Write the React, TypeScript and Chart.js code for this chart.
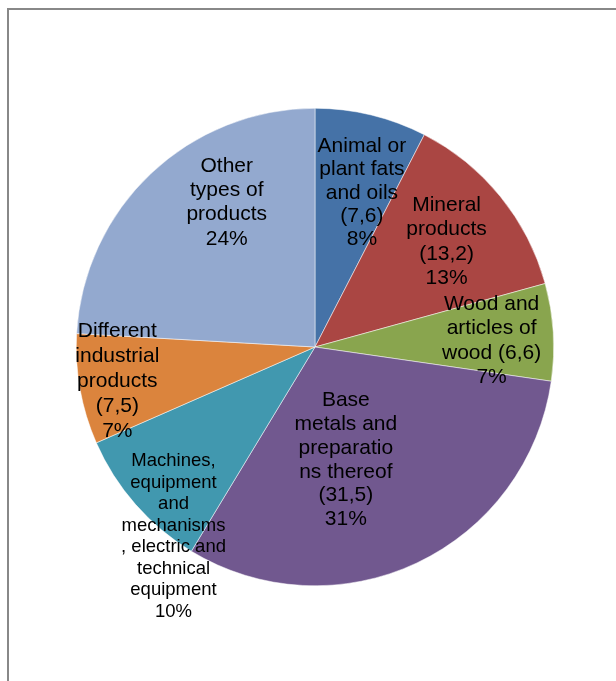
import React, { useEffect, useRef } from "react";
import { Chart, registerables } from "chart.js";

Chart.register(...registerables);

const categories = [
  "Animal or plant fats and oils",
  "Mineral products",
  "Wood and articles of wood",
  "Base metals and preparations thereof",
  "Machines, equipment and mechanisms, electric and technical equipment",
  "Different industrial products",
  "Other types of products",
];
const values = [7.6, 13.2, 6.6, 31.5, 9.8, 7.5, 24.2];
const colors = ["#4572A7", "#AA4643", "#89A54E", "#71588F", "#4198AF", "#DB843D", "#93A9CF"];
// label lines; {v} is replaced by the value, the percentage line is appended
const labelLines = [
  ["Animal or", "plant fats", "and oils", "({v})"],
  ["Mineral", "products", "({v})"],
  ["Wood and", "articles of", "wood ({v})"],
  ["Base", "metals and", "preparatio", "ns thereof", "({v})"],
  ["Machines,", "equipment", "and", "mechanisms", ", electric and", "technical", "equipment"],
  ["Different", "industrial", "products", "({v})"],
  ["Other", "types of", "products"],
];
// label placement style: radial fraction and angular nudge (degrees)
const labelRadius = [0.675, 0.706, 0.74, 0.49, 0.99, 0.84, 0.71];
const labelNudge = [3.3, 0.4, 1.6, 10, -12, 0.5, 12];
const labelFont = [21, 21, 21, 21, 18.5, 21, 21];
const labelLineH = [23.3, 24.5, 24.5, 23.8, 21.5, 25, 24.3];

const labelPlugin = {
  id: "sliceLabels",
  afterDatasetsDraw(chart: any) {
    const ctx = chart.ctx;
    const meta = chart.getDatasetMeta(0);
    const total = values.reduce((a, b) => a + b, 0);
    ctx.save();
    ctx.fillStyle = "#000";
    ctx.textAlign = "center";
    ctx.textBaseline = "middle";
    meta.data.forEach((arc: any, i: number) => {
      const { x, y, startAngle, endAngle, outerRadius } = arc.getProps(
        ["x", "y", "startAngle", "endAngle", "outerRadius"],
        true
      );
      const mid = (startAngle + endAngle) / 2 + (labelNudge[i] * Math.PI) / 180;
      const r = outerRadius * labelRadius[i];
      const cx = x + Math.cos(mid) * r;
      const cy = y + Math.sin(mid) * r;
      const vtxt = values[i].toFixed(1).replace(".", ",");
      const lines = labelLines[i].map((l) => l.replace("{v}", vtxt));
      lines.push(Math.round((values[i] / total) * 100) + "%");
      ctx.font = `${labelFont[i]}px "Liberation Sans", Arial, sans-serif`;
      const lh = labelLineH[i];
      const top = cy - ((lines.length - 1) * lh) / 2;
      lines.forEach((l, k) => ctx.fillText(l, cx, top + k * lh));
    });
    ctx.restore();
  },
};

export default function App() {
  const ref = useRef<HTMLCanvasElement | null>(null);
  useEffect(() => {
    if (!ref.current) return;
    const chart = new Chart(ref.current, {
      type: "pie",
      data: {
        labels: categories,
        datasets: [
          {
            data: values,
            backgroundColor: colors,
            borderWidth: 0.5,
            borderColor: "#ffffff",
          },
        ],
      },
      options: {
        animation: false,
        responsive: false,
        maintainAspectRatio: false,
        layout: { padding: { left: 68, top: 100, right: 54, bottom: 95 } },
        plugins: { legend: { display: false }, tooltip: { enabled: false } },
      },
      plugins: [labelPlugin],
    });
    return () => chart.destroy();
  }, []);
  return (
    <div style={{ position: "relative", width: 600, height: 673 }}>
      <div
        style={{
          position: "fixed",
          left: 7,
          top: 8,
          width: 700,
          height: 800,
          border: "2px solid #888888",
          boxSizing: "border-box",
        }}
      />
      <canvas
        ref={ref}
        width={600}
        height={673}
        style={{ position: "absolute", left: 0, top: 0, width: 600, height: 673 }}
      />
    </div>
  );
}
